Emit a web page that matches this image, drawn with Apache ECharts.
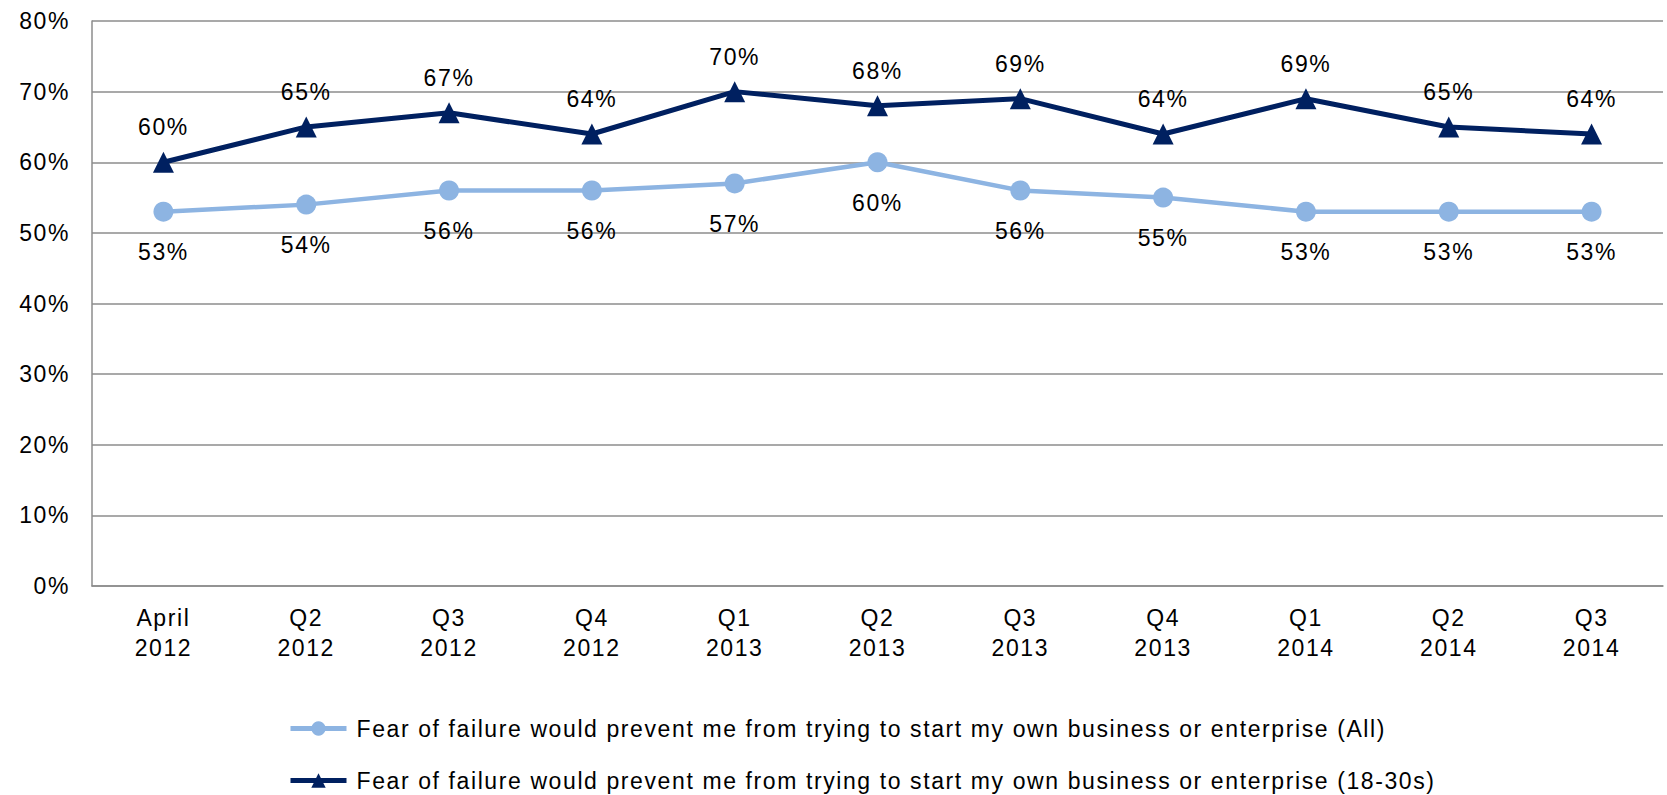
<!DOCTYPE html>
<html>
<head>
<meta charset="utf-8">
<style>
html,body{margin:0;padding:0;background:#fff;}
#c{width:1667px;height:795px;}
#c svg text{letter-spacing:1.6px;}
</style>
<script src="https://cdn.jsdelivr.net/npm/echarts@6/dist/echarts.min.js"></script>
</head>
<body>
<div id="c"></div>
<script>
const categories = ['April\n2012','Q2\n2012','Q3\n2012','Q4\n2012','Q1\n2013','Q2\n2013','Q3\n2013','Q4\n2013','Q1\n2014','Q2\n2014','Q3\n2014'];
const allValues = [53,54,56,56,57,60,56,55,53,53,53];
const youngValues = [60,65,67,64,70,68,69,64,69,65,64];
const seriesNames = [
  'Fear of failure would prevent me from trying to start my own business or enterprise (All)',
  'Fear of failure would prevent me from trying to start my own business or enterprise (18-30s)'
];
const FONT = 'Liberation Sans, Arial, sans-serif';
const FS = 23;
const chart = echarts.init(document.getElementById('c'), null, {renderer: 'svg'});
chart.setOption({
  animation: false,
  backgroundColor: '#fff',
  textStyle: {fontFamily: FONT},
  grid: {left: 92, right: 4, top: 21, bottom: 209, containLabel: false},
  legend: {
    orient: 'vertical', left: 288, top: 717, height: 150, padding: 0,
    itemWidth: 56, itemHeight: 18, itemGap: 29,
    lineStyle: {width: 5},
    textStyle: {fontFamily: FONT, fontSize: FS, color: '#000', padding: [0, 0, 0, 5]},
    data: seriesNames
  },
  xAxis: {
    type: 'category', data: categories, boundaryGap: true,
    axisLine: {lineStyle: {color: '#8c8c8c', width: 1.5}},
    axisTick: {inside: true, length: 8, lineStyle: {color: '#8c8c8c', width: 1.5}},
    axisLabel: {fontFamily: FONT, fontSize: FS, color: '#000', lineHeight: 30, margin: 17}
  },
  yAxis: {
    type: 'value', min: 0, max: 80, interval: 10,
    axisLine: {show: true, lineStyle: {color: '#8c8c8c', width: 1.5}},
    axisTick: {show: false},
    splitLine: {lineStyle: {color: '#8c8c8c', width: 1.5}},
    axisLabel: {fontFamily: FONT, fontSize: FS, color: '#000', margin: 22, formatter: '{value}%'}
  },
  series: [
    {
      name: seriesNames[0], type: 'line', data: allValues,
      symbol: 'circle', symbolSize: 20,
      lineStyle: {color: '#8db4e2', width: 4.5},
      itemStyle: {color: '#8db4e2'},
      label: {show: true, position: 'bottom', distance: 19, formatter: '{c}%', fontFamily: FONT, fontSize: FS, color: '#000'}
    },
    {
      name: seriesNames[1], type: 'line', data: youngValues,
      symbol: 'triangle', symbolSize: 21,
      lineStyle: {color: '#002060', width: 5},
      itemStyle: {color: '#002060'},
      label: {show: true, position: 'top', distance: 13, formatter: '{c}%', fontFamily: FONT, fontSize: FS, color: '#000'}
    }
  ]
});
</script>
</body>
</html>
